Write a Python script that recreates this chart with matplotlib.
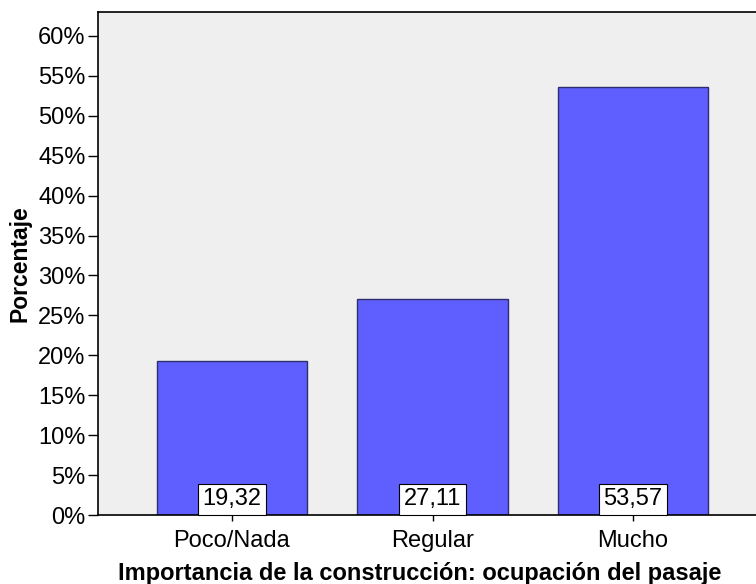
import matplotlib.pyplot as plt
from matplotlib.ticker import FuncFormatter

# datos
categorias = ['Poco/Nada', 'Regular', 'Mucho']
porcentajes = [19.32, 27.11, 53.57]
etiquetas = ['19,32', '27,11', '53,57']

plt.rcParams['font.family'] = ['Liberation Sans', 'DejaVu Sans']

fig = plt.figure(figsize=(7.56, 5.84), dpi=100)
ax = fig.add_axes([98 / 756, 1 - 515 / 584, 1 - 98 / 756, (515 - 12) / 584])
ax.set_facecolor('#EFEFEF')

pos = list(range(len(categorias)))
ax.bar(pos, porcentajes, width=0.75, color='#5F5FFF', edgecolor='#2E2E6E', linewidth=1, zorder=2)

# etiquetas con caja blanca en la base de cada barra
for x, t in zip(pos, etiquetas):
    ax.annotate(t, xy=(x, 0), xytext=(0, 3.4), textcoords='offset points',
                ha='center', va='bottom', fontsize=17, zorder=3,
                bbox=dict(boxstyle='square,pad=0.2', fc='white', ec='black', lw=0.8))

ax.set_xlim(-0.668, 2.613)
ax.set_ylim(0, 63)
ax.set_yticks(range(0, 61, 5))
ax.yaxis.set_major_formatter(FuncFormatter(lambda v, p: f'{int(v)}%'))
ax.set_xticks(pos)
ax.set_xticklabels(categorias)

ax.tick_params(axis='y', length=7, width=1, labelsize=17, pad=2)
ax.tick_params(axis='x', length=4, width=1, labelsize=17, pad=7)

for s in ['left', 'top', 'bottom']:
    ax.spines[s].set_linewidth(1.2)
ax.spines['right'].set_visible(False)

ax.set_ylabel('Porcentaje', fontsize=16.5, fontweight='bold', labelpad=4.5)
ax.set_xlabel('Importancia de la construcción: ocupación del pasaje',
              fontsize=17, fontweight='bold', labelpad=7)
ax.xaxis.label.set_x(0.489)

fig.savefig('out.png', dpi=100)
